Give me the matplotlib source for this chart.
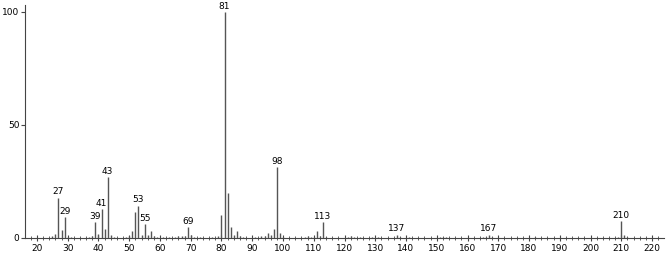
import numpy as np
import matplotlib.pyplot as plt

# m/z and relative intensity
mz = [25, 26, 27, 28, 29, 30, 31, 37, 38, 39, 40, 41, 42, 43, 44, 45,
      49, 50, 51, 52, 53, 54, 55, 56, 57, 58, 59, 61, 63, 65, 66, 67, 68, 69, 70, 71, 73,
      77, 79, 80, 81, 82, 83, 84, 85, 86, 87, 91, 93, 94, 95, 96, 97, 98, 99, 100,
      107, 108, 109, 110, 111, 112, 113, 114, 121, 122, 123, 125, 129, 131, 137, 138,
      141, 151, 152, 153, 165, 166, 167, 168, 182, 209, 210, 211, 212]
inten = [0.8, 1.8, 17.8, 3.5, 9.2, 0.6, 0.5, 0.6, 1.0, 7.0, 1.8, 12.8, 4.1, 26.8, 1.5, 0.6,
         0.5, 0.8, 3.0, 11.6, 14.3, 1.2, 6.2, 1.5, 3.1, 0.7, 0.5, 0.4, 0.4, 0.6, 0.7, 1.0, 1.0, 4.9, 1.2, 0.5, 0.5,
         0.5, 0.8, 10.2, 100, 19.8, 4.7, 1.2, 3.1, 0.8, 0.6, 0.5, 0.7, 0.8, 2.3, 1.2, 4.1, 31.3, 2.3, 0.6,
         0.5, 0.8, 0.6, 0.5, 3.0, 1.0, 7.1, 0.6, 0.6, 0.8, 0.6, 0.4, 0.6, 0.4, 1.5, 0.5,
         0.4, 0.4, 0.5, 0.4, 0.5, 0.6, 1.5, 0.4, 0.6, 0.4, 7.4, 1.5, 0.5]
labeled = [27, 29, 39, 41, 43, 53, 55, 69, 81, 98, 113, 137, 167, 210]

fig = plt.figure(figsize=(6.66, 2.54), dpi=100)
ax = fig.add_axes([0.0375, 0.063, 0.96, 0.917])

ax.vlines(mz, 0, inten, color='#555555', linewidth=1.0)
for m, v in zip(mz, inten):
    if m in labeled:
        ax.text(m, v + 0.6, str(m), ha='center', va='bottom', fontsize=6.5, color='black')

ax.set_xlim(16.1, 224)
ax.set_ylim(0, 103)
ax.spines['top'].set_visible(False)
ax.spines['right'].set_visible(False)
for s in ['left', 'bottom']:
    ax.spines[s].set_color('#444444')
    ax.spines[s].set_linewidth(0.8)
ax.set_xticks(np.arange(20, 221, 10))
ax.set_xticks(np.arange(18, 224, 2), minor=True)
ax.set_yticks([0, 50, 100])
ax.tick_params(axis='x', which='major', length=4, width=0.8, labelsize=6.5, pad=2, direction='inout', color='#444444')
ax.tick_params(axis='x', which='minor', length=3, width=0.6, direction='inout', color='#444444')
ax.tick_params(axis='y', length=3, width=0.8, labelsize=6.5, pad=1, color='#444444')

fig.savefig('out.png', dpi=100)
